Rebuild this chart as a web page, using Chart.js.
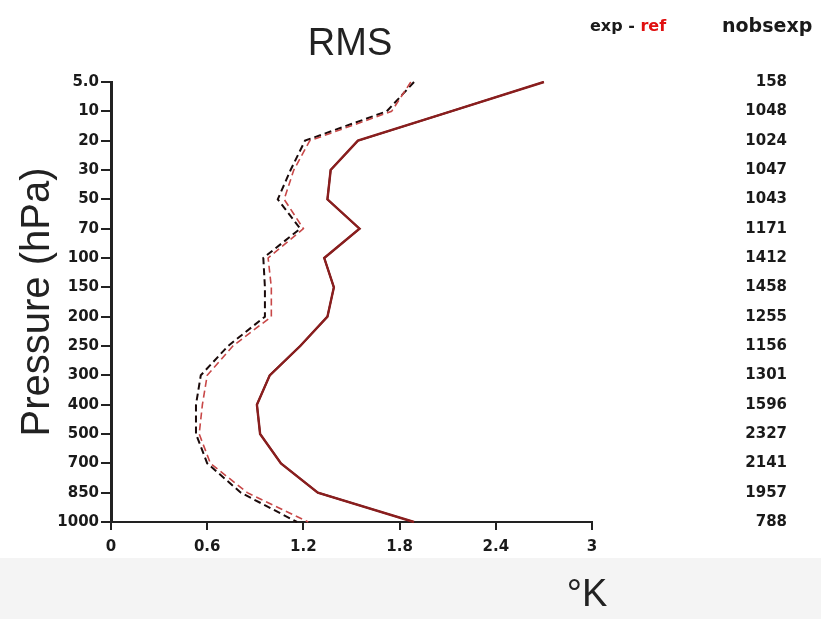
<!DOCTYPE html>
<html>
<head>
<meta charset="utf-8">
<script src="https://cdn.jsdelivr.net/npm/chart.js@4.4.0/dist/chart.umd.min.js"></script>
<style>
  body { margin: 0; background: #fff; }
  #wrap { position: relative; width: 821px; height: 619px; }
  #band { position: absolute; left: 0; top: 558px; width: 821px; height: 61px; background: #f4f4f4; }
  #chart { position: absolute; left: 0; top: 0; }
</style>
</head>
<body>
<div id="wrap">
  <div id="band"></div>
  <canvas id="chart" width="821" height="619"></canvas>
</div>
<script>
// pressure levels (hPa), top to bottom
const niveis = ["5.0", "10", "20", "30", "50", "70", "100", "150", "200", "250", "300", "400", "500", "700", "850", "1000"];

// solid curves (exp and ref lie on top of each other)
const rmsExp = [2.70, 2.12, 1.54, 1.37, 1.35, 1.55, 1.33, 1.39, 1.35, 1.18, 0.99, 0.91, 0.93, 1.06, 1.29, 1.89];
const rmsRef = [2.70, 2.12, 1.54, 1.37, 1.35, 1.55, 1.33, 1.39, 1.35, 1.18, 0.99, 0.91, 0.93, 1.06, 1.29, 1.89];

// dashed curves
const tracoExp = [1.89, 1.72, 1.21, 1.12, 1.04, 1.18, 0.95, 0.96, 0.96, 0.73, 0.56, 0.53, 0.53, 0.60, 0.81, 1.16];
const tracoRef = [1.87, 1.75, 1.24, 1.14, 1.08, 1.20, 0.98, 1.00, 1.00, 0.76, 0.60, 0.57, 0.55, 0.62, 0.85, 1.23];

// observation counts per level
const nobsExp = [158, 1048, 1024, 1047, 1043, 1171, 1412, 1458, 1255, 1156, 1301, 1596, 2327, 2141, 1957, 788];

const X_MIN = 0;
const X_MAX = 3;
const X_PASSO = 0.6;

const FONTE = "'DejaVu Sans', sans-serif";
const COR_TEXTO = "#1a1a1a";

const textosExtras = {
    id: "textosExtras",
    afterDraw(chart) {
        const ctx = chart.ctx;
        const yScale = chart.scales.y;
        ctx.save();

        // title
        ctx.fillStyle = "#222";
        ctx.font = "38px 'Liberation Sans', Arial, sans-serif";
        ctx.textAlign = "center";
        ctx.textBaseline = "middle";
        ctx.fillText("RMS", 350, 45);

        // y axis title
        ctx.save();
        ctx.translate(38, 302);
        ctx.rotate(-Math.PI / 2);
        ctx.font = "40px 'Liberation Sans', Arial, sans-serif";
        ctx.fillText("Pressure (hPa)", 0, 0);
        ctx.restore();

        // x axis unit
        ctx.font = "38px 'Liberation Sans', Arial, sans-serif";
        ctx.fillText("°K", 587, 596);

        // legend header: exp - ref
        ctx.font = "bold 16px " + FONTE;
        ctx.textAlign = "left";
        const x0 = 590;
        const parte1 = "exp - ";
        ctx.fillStyle = COR_TEXTO;
        ctx.fillText(parte1, x0, 27);
        ctx.fillStyle = "#e01010";
        ctx.fillText("ref", x0 + ctx.measureText(parte1).width, 27);

        ctx.fillStyle = COR_TEXTO;
        ctx.font = "bold 19px " + FONTE;
        ctx.fillText("nobsexp", 722, 27);

        // counts column
        ctx.font = "bold 15px " + FONTE;
        ctx.textAlign = "right";
        nobsExp.forEach((n, i) => {
            ctx.fillText(String(n), 787, yScale.getPixelForValue(i));
        });

        ctx.restore();
    }
};

const ctx = document.getElementById("chart");

new Chart(ctx, {
    type: "line",
    data: {
        labels: niveis,
        datasets: [
            {
                label: "ref",
                data: rmsRef,
                borderColor: "#8a1e1e",
                borderWidth: 2.4,
                pointRadius: 0
            },
            {
                label: "exp",
                data: rmsExp,
                borderColor: "#3a0e0e",
                borderWidth: 1.8,
                pointRadius: 0
            },
            {
                label: "ref tracejado",
                data: tracoRef,
                borderColor: "#c84848",
                borderWidth: 1.6,
                borderDash: [7, 4],
                pointRadius: 0
            },
            {
                label: "exp tracejado",
                data: tracoExp,
                borderColor: "#1a0a0a",
                borderWidth: 2,
                borderDash: [7, 4],
                pointRadius: 0
            }
        ]
    },
    options: {
        indexAxis: "y",
        responsive: false,
        animation: false,
        layout: {
            padding: { top: 82, left: 51, right: 229, bottom: 61 }
        },
        plugins: {
            legend: { display: false },
            tooltip: { enabled: false }
        },
        scales: {
            x: {
                type: "linear",
                min: X_MIN,
                max: X_MAX,
                afterFit: scale => { scale.height = 36; },
                afterBuildTicks: scale => {
                    const ticks = [];
                    for (let i = 0; i <= Math.round((X_MAX - X_MIN) / X_PASSO); i++) {
                        ticks.push({ value: +(X_MIN + i * X_PASSO).toFixed(1) });
                    }
                    scale.ticks = ticks;
                },
                ticks: {
                    color: COR_TEXTO,
                    font: { family: FONTE, size: 15, weight: "bold" },
                    padding: 8,
                    maxRotation: 0,
                    callback: v => (v === 0 ? "0" : String(+v.toFixed(1)))
                },
                grid: {
                    drawOnChartArea: false,
                    tickLength: 8,
                    color: "#222",
                    lineWidth: 2
                },
                border: { display: true, color: "#222", width: 2 }
            },
            y: {
                type: "category",
                offset: false,
                afterFit: scale => { scale.width = 60; },
                ticks: {
                    color: COR_TEXTO,
                    font: { family: FONTE, size: 15, weight: "bold" },
                    padding: 2,
                    autoSkip: false
                },
                grid: {
                    drawOnChartArea: false,
                    tickLength: 10,
                    color: "#222",
                    lineWidth: 2
                },
                border: { display: true, color: "#222", width: 3 }
            }
        }
    },
    plugins: [textosExtras]
});
</script>
</body>
</html>
